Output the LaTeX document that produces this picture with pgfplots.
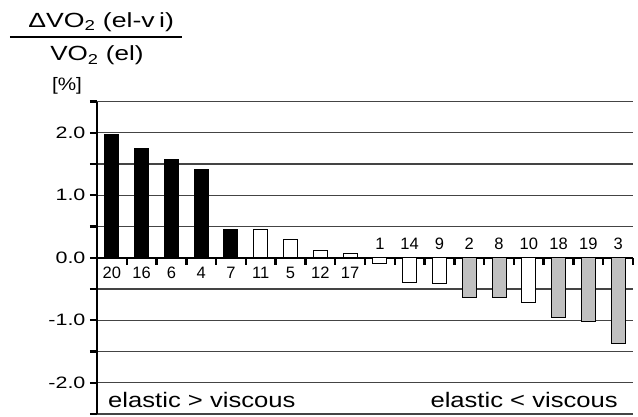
\documentclass[border=0pt]{standalone}
\usepackage{fontspec}
\setmainfont{Liberation Sans}
\usepackage{pgfplots}
\pgfplotsset{compat=1.18}
\definecolor{barGray}{HTML}{C0C0C0}
\definecolor{gridGray}{HTML}{444444}

\begin{document}
\begin{tikzpicture}
\useasboundingbox (-97pt,-2pt) rectangle (541pt,414pt);
\begin{axis}[
  scale only axis, width=536pt, height=312.5pt,
  xmin=0, xmax=18, ymin=-2.5, ymax=2.5,
  axis x line=middle, axis y line=left,
  axis line style={-, line width=2.4pt},
  hide obscured x ticks=false, hide obscured y ticks=false,
  xtick={1,...,18}, xticklabels={},
  ytick={-2.5,-2,...,2.5},
  yticklabels={,-2.0,,-1.0,,0.0,,1.0,,2.0,},
  tick align=outside,
  major tick length=7pt,
  tick style={line width=2.4pt, black},
  ymajorgrids, grid style={gridGray, line width=1.2pt},
  yticklabel style={font=\fontsize{16.5}{18}\selectfont, xscale=1.3},
  clip=false,
]
% bars: elastic > viscous (black), small differences (white), elastic < viscous (grey)
\addplot[ybar, bar width=14pt, bar shift=0pt, fill=black, draw=black, line width=1pt]
  coordinates {(0.5,1.97) (1.5,1.75) (2.5,1.57) (3.5,1.42) (4.5,0.46)};
\addplot[ybar, bar width=14pt, bar shift=0pt, fill=white, draw=black, line width=1pt]
  coordinates {(5.5,0.46) (6.5,0.30) (7.5,0.11) (8.5,0.075) (9.5,-0.09)
               (10.5,-0.39) (11.5,-0.41) (14.5,-0.71)};
\addplot[ybar, bar width=14pt, bar shift=0pt, fill=barGray, draw=black, line width=1pt]
  coordinates {(12.5,-0.63) (13.5,-0.63) (15.5,-0.95) (16.5,-1.02) (17.5,-1.37)};

% subject numbers, opposite side of the zero line
\addplot[only marks, mark=*, mark size=0pt, mark options={draw=none, fill=none},
  nodes near coords, point meta=explicit symbolic, nodes near coords align={below},
  every node near coord/.append style={anchor=north, yshift=-9pt, inner sep=0pt,
    font=\fontsize{16.5}{18}\selectfont}]
  table[meta=lab] {
x y lab
0.5 0 20
1.5 0 16
2.5 0 6
3.5 0 4
4.5 0 7
5.5 0 11
6.5 0 5
7.5 0 12
8.5 0 17
};
\addplot[only marks, mark=*, mark size=0pt, mark options={draw=none, fill=none},
  nodes near coords, point meta=explicit symbolic, nodes near coords align={above},
  every node near coord/.append style={anchor=south, yshift=8pt, inner sep=0pt,
    font=\fontsize{16.5}{18}\selectfont}]
  table[meta=lab] {
x y lab
9.5 0 1
10.5 0 14
11.5 0 9
12.5 0 2
13.5 0 8
14.5 0 10
15.5 0 18
16.5 0 19
17.5 0 3
};
\end{axis}

\node[anchor=base west, inner sep=0pt, xscale=1.22, font=\fontsize{21}{24}\selectfont]
  at (11pt,7pt) {elastic > viscous};
\node[anchor=base east, inner sep=0pt, xscale=1.22, font=\fontsize{21}{24}\selectfont]
  at (521pt,7pt) {elastic < viscous};

\node[anchor=base west, inner sep=0pt, xscale=1.3, font=\fontsize{20.5}{24}\selectfont]
  at (-69pt,386.7pt) {ΔVO\textsubscript{2} (el-v\,i)};
\draw[line width=2pt] (-87pt,377.3pt) -- (85pt,377.3pt);
\node[anchor=base west, inner sep=0pt, xscale=1.27, font=\fontsize{20.5}{24}\selectfont]
  at (-47pt,353pt) {VO\textsubscript{2} (el)};
\node[anchor=base, inner sep=0pt, xscale=1.15, font=\fontsize{18}{22}\selectfont]
  at (-30pt,323pt) {[\%]};
\end{tikzpicture}
\end{document}
